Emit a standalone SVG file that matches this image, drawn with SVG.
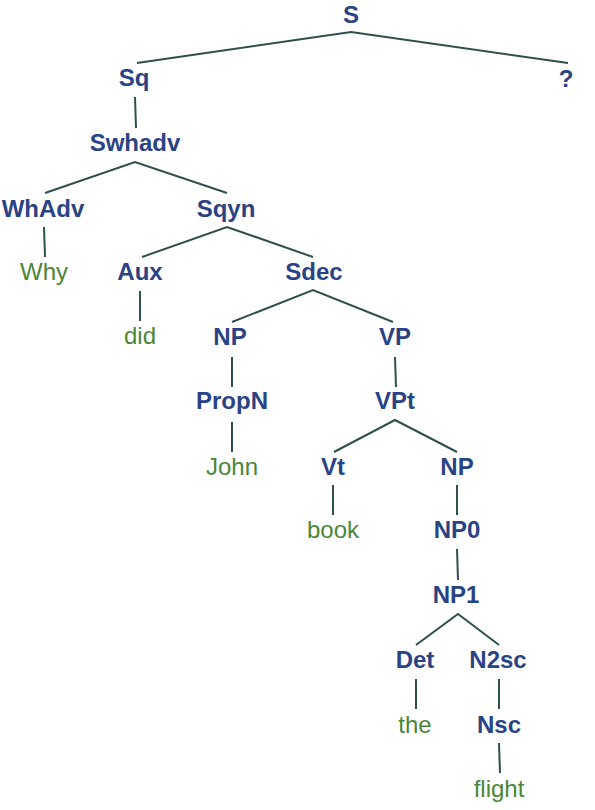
<svg xmlns="http://www.w3.org/2000/svg" width="595" height="810" viewBox="0 0 595 810">
<style>
.n{font-family:"Liberation Sans",Arial,sans-serif;font-size:24px;font-weight:bold;fill:#2a4384;text-anchor:middle}
.w{font-family:"Liberation Sans",Arial,sans-serif;font-size:24px;fill:#4a8638;text-anchor:middle}
.e{stroke:#2f4f4f;stroke-width:2;fill:none}
</style>
<rect width="595" height="810" fill="#fff"/>
<g id="connectors" class="e">
<polyline points="137,63 351,32 568,63"/>
<line x1="135" y1="97" x2="136" y2="128"/>
<polyline points="45,193 135,162 227,193"/>
<line x1="44" y1="227" x2="45" y2="257"/>
<polyline points="142,257 227,227 313,257"/>
<line x1="140" y1="291" x2="140" y2="321"/>
<polyline points="232,322 313,290 393,322"/>
<line x1="232" y1="357" x2="232" y2="387"/>
<line x1="232" y1="422" x2="232" y2="452"/>
<line x1="395" y1="357" x2="396" y2="387"/>
<polyline points="334,452 395,420 457,452"/>
<line x1="333" y1="485" x2="333" y2="515"/>
<line x1="457" y1="485" x2="457" y2="515"/>
<line x1="457" y1="549" x2="458" y2="580"/>
<polyline points="416,645 458,614 499,645"/>
<line x1="416" y1="679" x2="416" y2="709"/>
<line x1="499" y1="679" x2="499" y2="709"/>
<line x1="499" y1="743" x2="500" y2="773"/>
</g>
<g id="S"><text class="n" x="351" y="23">S</text></g>
<g id="Sq"><text class="n" x="134" y="86">Sq</text></g>
<g id="Q"><text class="n" x="566" y="87">?</text></g>
<g id="Swhadv"><text class="n" x="135" y="151">Swhadv</text></g>
<g id="WhAdv"><text class="n" x="43" y="217">WhAdv</text></g>
<g id="Sqyn"><text class="n" x="226" y="217">Sqyn</text></g>
<g id="Why"><text class="w" x="44" y="280">Why</text></g>
<g id="Aux"><text class="n" x="140" y="280">Aux</text></g>
<g id="Sdec"><text class="n" x="314" y="280">Sdec</text></g>
<g id="did"><text class="w" x="140" y="344">did</text></g>
<g id="NP"><text class="n" x="230" y="345">NP</text></g>
<g id="VP"><text class="n" x="395" y="345">VP</text></g>
<g id="PropN"><text class="n" x="232" y="409">PropN</text></g>
<g id="VPt"><text class="n" x="395" y="409">VPt</text></g>
<g id="John"><text class="w" x="232" y="475">John</text></g>
<g id="Vt"><text class="n" x="333" y="475">Vt</text></g>
<g id="NP2"><text class="n" x="457" y="475">NP</text></g>
<g id="book"><text class="w" x="333" y="538">book</text></g>
<g id="NP0"><text class="n" x="457" y="538">NP0</text></g>
<g id="NP1"><text class="n" x="456" y="603">NP1</text></g>
<g id="Det"><text class="n" x="415" y="668">Det</text></g>
<g id="N2sc"><text class="n" x="498" y="668">N2sc</text></g>
<g id="the"><text class="w" x="415" y="733">the</text></g>
<g id="Nsc"><text class="n" x="499" y="733">Nsc</text></g>
<g id="flight"><text class="w" x="499" y="797">flight</text></g>
</svg>
